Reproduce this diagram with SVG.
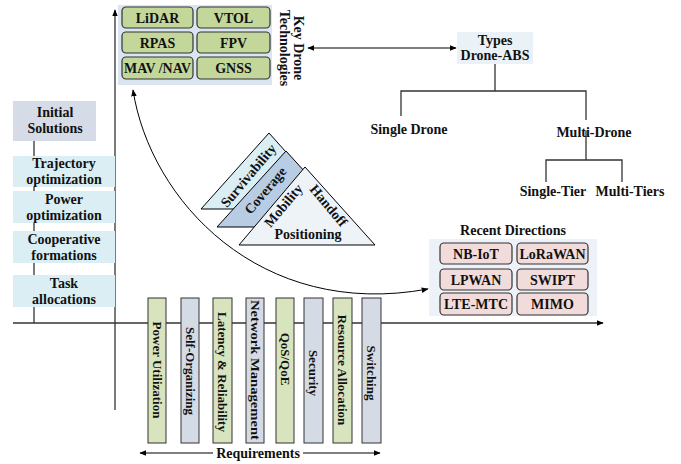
<svg xmlns="http://www.w3.org/2000/svg" width="681" height="464" viewBox="0 0 681 464">
<defs>
<marker id="ah" viewBox="0 0 10 10" refX="9" refY="5" markerWidth="7" markerHeight="7" orient="auto-start-reverse" markerUnits="userSpaceOnUse"><path d="M0,1 L10,5 L0,9 z" fill="#000"/></marker>
<style>
text{font-family:"Liberation Serif","Times New Roman",serif;font-weight:bold;fill:#111;}
.t13{font-size:13px;text-anchor:middle;}
.t14{font-size:14px;text-anchor:middle;}
.gb{fill:#c4d79b;stroke:#333;stroke-width:1.2;}
.pb{fill:#f2dcdb;stroke:#333;stroke-width:1.2;}
.cy{fill:#daeef3;}
.ln{stroke:#333;stroke-width:1.3;fill:none;}
.bar-g{fill:#d7e4bd;stroke:#333;stroke-width:1;}
.bar-b{fill:#d5dbe5;stroke:#333;stroke-width:1;}
.tri{stroke:#000;stroke-width:1;}
</style>
</defs>

<g id="connectors">
<line class="ln" x1="115" y1="410" x2="115" y2="10" marker-end="url(#ah)"/>
<line class="ln" x1="13" y1="323" x2="603" y2="323" marker-end="url(#ah)"/>
<line class="ln" x1="34" y1="141" x2="34" y2="323"/>
<line x1="308" y1="48" x2="456" y2="48" stroke="#000" stroke-width="1.2" marker-start="url(#ah)" marker-end="url(#ah)"/>
<path class="ln" d="M495,64 V91 M401,116 V91 H586 V120 M586,131 V160 M546,182 V160 H622 V182"/>
<path d="M133,90 C150,200 260,320 428,289" fill="none" stroke="#000" stroke-width="1" marker-start="url(#ah)" marker-end="url(#ah)"/>
<line x1="140" y1="453" x2="380" y2="453" stroke="#000" stroke-width="1.2" marker-start="url(#ah)" marker-end="url(#ah)"/>
</g>

<g id="initial-solutions">
<rect x="13" y="101" width="83" height="40" fill="#d5dce8"/>
<text class="t14" x="55" y="117">Initial</text>
<text class="t14" x="55" y="133">Solutions</text>
</g>
<g id="trajectory">
<rect class="cy" x="13" y="156" width="102" height="31"/>
<text class="t14" x="64" y="168">Trajectory</text>
<text class="t14" x="64" y="183.5">optimization</text>
</g>
<g id="power-opt">
<rect class="cy" x="13" y="191" width="102" height="32"/>
<text class="t14" x="64" y="204">Power</text>
<text class="t14" x="64" y="219.5">optimization</text>
</g>
<g id="cooperative">
<rect class="cy" x="13" y="231" width="102" height="32"/>
<text class="t14" x="64" y="244">Cooperative</text>
<text class="t14" x="64" y="259.5">formations</text>
</g>
<g id="task">
<rect class="cy" x="13" y="275" width="102" height="32"/>
<text class="t14" x="64" y="288">Task</text>
<text class="t14" x="64" y="304">allocations</text>
</g>

<g id="key-drone-technologies">
<rect x="118" y="5" width="154" height="80" fill="#dbe5f1"/>
<rect class="gb" x="122" y="7" width="71" height="21" rx="4"/>
<rect class="gb" x="197" y="7" width="73" height="21" rx="4"/>
<rect class="gb" x="122" y="32" width="71" height="21" rx="4"/>
<rect class="gb" x="197" y="32" width="73" height="21" rx="4"/>
<rect class="gb" x="122" y="57" width="71" height="22" rx="4"/>
<rect class="gb" x="197" y="57" width="73" height="22" rx="4"/>
<text class="t14" x="157.5" y="22.5">LiDAR</text>
<text class="t14" x="233.5" y="22.5">VTOL</text>
<text class="t14" x="157.5" y="47.5">RPAS</text>
<text class="t14" x="233.5" y="47.5">FPV</text>
<text class="t14" x="157.5" y="73" textLength="67" lengthAdjust="spacingAndGlyphs">MAV /NAV</text>
<text class="t14" x="233.5" y="73">GNSS</text>
<text class="t14" transform="translate(294,48) rotate(90)" x="0" y="0">Key Drone</text>
<text class="t14" transform="translate(294,48) rotate(90)" x="0" y="14">Technologies</text>
</g>

<g id="types-drone-abs">
<rect x="457" y="32" width="76" height="32" fill="#eaf2f8"/>
<text class="t14" x="495" y="45">Types</text>
<text class="t14" x="495" y="60">Drone-ABS</text>
</g>
<g id="single-drone"><text class="t14" x="409" y="134">Single Drone</text></g>
<g id="multi-drone"><text class="t14" x="594" y="137">Multi-Drone</text></g>
<g id="single-tier"><text class="t14" x="553" y="196">Single-Tier</text></g>
<g id="multi-tiers"><text class="t14" x="630" y="196">Multi-Tiers</text></g>

<g id="triangles">
<polygon class="tri" points="269,133 201,209 337,209" fill="#daeef3"/>
<polygon class="tri" points="286,151 217,227 355,227" fill="#b8cce4"/>
<polygon class="tri" points="305,167 239,245 375,245" fill="#eef3f8"/>
<text class="t14" transform="translate(249,176) rotate(-50)" x="0" y="4">Survivability</text>
<text class="t14" transform="translate(266,191) rotate(-50)" x="0" y="4">Coverage</text>
<text class="t14" transform="translate(284,206) rotate(-50)" x="0" y="4">Mobility</text>
<text class="t14" transform="translate(328,206) rotate(50)" x="0" y="4">Handoff</text>
<text class="t14" x="308" y="239">Positioning</text>
</g>

<g id="recent-directions">
<text class="t14" x="513" y="235">Recent Directions</text>
<rect x="429" y="239" width="168" height="77" fill="#edf1f8"/>
<rect class="pb" x="440" y="243" width="72" height="21" rx="4"/>
<rect class="pb" x="517" y="243" width="71" height="21" rx="4"/>
<rect class="pb" x="440" y="269" width="72" height="21" rx="4"/>
<rect class="pb" x="517" y="269" width="71" height="21" rx="4"/>
<rect class="pb" x="440" y="293" width="72" height="22" rx="4"/>
<rect class="pb" x="517" y="293" width="71" height="22" rx="4"/>
<text class="t14" x="476" y="258.5">NB-IoT</text>
<text class="t14" x="552.5" y="258.5">LoRaWAN</text>
<text class="t14" x="476" y="284.5">LPWAN</text>
<text class="t14" x="552.5" y="284.5">SWIPT</text>
<text class="t14" x="476" y="309">LTE-MTC</text>
<text class="t14" x="552.5" y="309">MIMO</text>
</g>

<g id="requirements">
<rect class="bar-g" x="148" y="298" width="18" height="145"/>
<rect class="bar-b" x="181" y="298" width="18" height="145"/>
<rect class="bar-g" x="213" y="298" width="19" height="145"/>
<rect class="bar-b" x="246" y="298" width="18" height="145"/>
<rect class="bar-g" x="276" y="298" width="18" height="145"/>
<rect class="bar-b" x="304" y="298" width="19" height="145"/>
<rect class="bar-g" x="333" y="298" width="19" height="145"/>
<rect class="bar-b" x="362" y="298" width="19" height="145"/>
<text class="t13" transform="translate(157,370) rotate(90)" x="0" y="4.5">Power Utilization</text>
<text class="t13" transform="translate(190,371) rotate(90)" x="0" y="4.5">Self-Organizing</text>
<text class="t13" transform="translate(222.5,372) rotate(90)" x="0" y="4.5">Latency &amp; Reliability</text>
<text class="t13" transform="translate(255,370) rotate(90)" x="0" y="4.5" textLength="140" lengthAdjust="spacingAndGlyphs">Network Management</text>
<text class="t13" transform="translate(285,359) rotate(90)" x="0" y="4.5">QoS/QoE</text>
<text class="t13" transform="translate(313.5,373) rotate(90)" x="0" y="4.5">Security</text>
<text class="t13" transform="translate(342.5,370) rotate(90)" x="0" y="4.5">Resource Allocation</text>
<text class="t13" transform="translate(371.5,373) rotate(90)" x="0" y="4.5">Switching</text>
<rect x="213" y="446" width="90" height="14" fill="#fff"/>
<text class="t14" x="258" y="458">Requirements</text>
</g>
</svg>
